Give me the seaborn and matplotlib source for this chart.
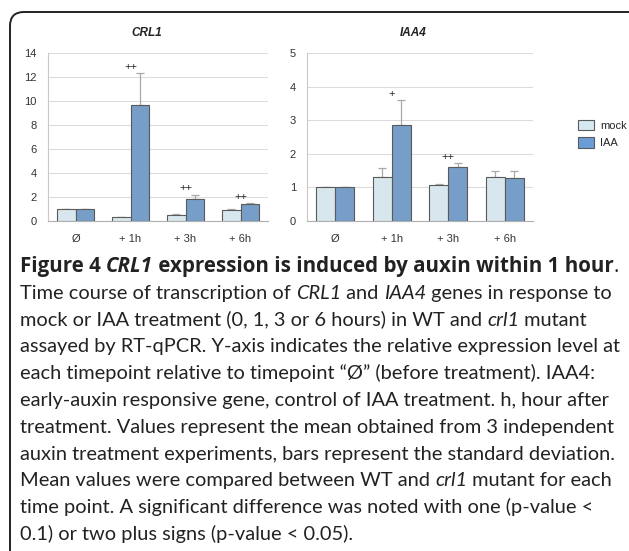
import matplotlib
matplotlib.use("Agg")
import matplotlib.pyplot as plt
import seaborn as sns
import pandas as pd
import numpy as np
from matplotlib.patches import FancyBboxPatch, Patch
from matplotlib.transforms import IdentityTransform

# données
timepoints = ["Ø", "+ 1h", "+ 3h", "+ 6h"]
treatments = ["mock", "IAA"]

crl1_mock = [1.0, 0.3, 0.5, 0.92]
crl1_iaa = [1.0, 9.7, 1.83, 1.4]
crl1_mock_sd = [0.02, 0.03, 0.05, 0.04]
crl1_iaa_sd = [0.02, 2.6, 0.35, 0.1]
crl1_signif = ["", "++", "++", "++"]

iaa4_mock = [1.0, 1.32, 1.08, 1.3]
iaa4_iaa = [1.0, 2.85, 1.6, 1.27]
iaa4_mock_sd = [0.01, 0.26, 0.03, 0.19]
iaa4_iaa_sd = [0.01, 0.75, 0.12, 0.23]
iaa4_signif = ["", "+", "++", ""]

colors = {"mock": "#d4e9f2", "IAA": "#6a9dd6"}
W, H = 629, 551

sns.set_style("white")
plt.rcParams["font.family"] = ["Liberation Sans", "DejaVu Sans"]

fig = plt.figure(figsize=(W / 100, H / 100), dpi=100)

# cadre arrondi du panneau (côtés droit et bas hors image)
frame = FancyBboxPatch((10, -30), 634, H - 12 + 30,
                       boxstyle="round,pad=0,rounding_size=14",
                       transform=IdentityTransform(), fill=False,
                       edgecolor="#222222", linewidth=1.4)
fig.patches.append(frame)


def make_df(mock, iaa, mock_sd, iaa_sd):
    return pd.DataFrame({
        "time": timepoints * 2,
        "treatment": ["mock"] * 4 + ["IAA"] * 4,
        "value": mock + iaa,
        "sd": mock_sd + iaa_sd,
    })


def draw_panel(rect, df, signif, ymax, step, title, title_x):
    ax = fig.add_axes(rect)
    sns.barplot(data=df, x="time", y="value", hue="treatment",
                order=timepoints, hue_order=treatments, palette=colors,
                width=0.667, gap=0, errorbar=None, legend=False,
                edgecolor="#5a5a5a", linewidth=0.8, ax=ax, zorder=3)
    # barres d'erreur (écart-type, vers le haut seulement)
    tops = np.zeros(len(timepoints))
    for cont, trt in zip(ax.containers, treatments):
        sub = df[df["treatment"] == trt].set_index("time").loc[timepoints]
        xs = [b.get_x() + b.get_width() / 2 for b in cont]
        ys = sub["value"].values
        sd = sub["sd"].values
        ax.errorbar(xs, ys, yerr=[np.zeros_like(sd), sd], fmt="none",
                    ecolor="#a8a8a8", elinewidth=0.9, capsize=3,
                    capthick=0.9, zorder=2)
        tops = np.maximum(tops, ys + sd)
    for i, s in enumerate(signif):
        if s:
            ax.annotate(s, xy=(i, tops[i]), xytext=(0, 1),
                        textcoords="offset points", ha="center",
                        va="bottom", fontsize=8, color="#222222")
    ax.set_xlim(-0.5, 3.5)
    ax.set_ylim(0, ymax)
    ax.set_yticks(np.arange(0, ymax + 0.01, step))
    ax.set_yticklabels([f"{v:g}" for v in np.arange(0, ymax + 0.01, step)])
    ax.set_xticks(np.arange(-0.5, 4, 1), minor=True)
    ax.set_xlabel("")
    ax.set_ylabel("")
    ax.yaxis.grid(True, color="#dcdcdc", linewidth=0.8, zorder=0)
    ax.set_axisbelow(True)
    for side in ["top", "right"]:
        ax.spines[side].set_visible(False)
    ax.spines["left"].set_color("#d0c4c8")
    ax.spines["bottom"].set_color("#b0b0b0")
    ax.spines["left"].set_linewidth(0.8)
    ax.spines["bottom"].set_linewidth(0.8)
    ax.tick_params(axis="y", length=3, width=0.6, color="#c8c8c8",
                   labelsize=8, labelcolor="#333333", pad=5)
    ax.tick_params(axis="x", which="major", length=0, labelsize=8,
                   labelcolor="#333333", pad=9)
    ax.tick_params(axis="x", which="minor", length=3, width=0.6,
                   color="#b0b0b0")
    ax.text(title_x, 1.12, title, transform=ax.transAxes, ha="center",
            va="center", fontsize=8.5, fontweight="bold", fontstyle="italic",
            color="#222222")
    return ax


crl1 = make_df(crl1_mock, crl1_iaa, crl1_mock_sd, crl1_iaa_sd)
iaa4 = make_df(iaa4_mock, iaa4_iaa, iaa4_mock_sd, iaa4_iaa_sd)

draw_panel([48 / W, 1 - 221 / H, 220 / W, 168 / H], crl1, crl1_signif,
           14, 2, "CRL1", 0.45)
draw_panel([307 / W, 1 - 221 / H, 226 / W, 168 / H], iaa4, iaa4_signif,
           5, 1, "IAA4", 0.47)

handles = [Patch(facecolor=colors[t], edgecolor="#5a5a5a", linewidth=0.8,
                 label=t) for t in treatments]
fig.legend(handles=handles, loc="center left",
           bbox_to_anchor=(568 / W, 1 - 134 / H), frameon=False,
           fontsize=8, handlelength=1.4, handleheight=1.1,
           handletextpad=0.6, labelspacing=0.6)

# légende de la figure (texte)
B, N, I, BI = ("bold", "normal"), ("normal", "normal"), ("normal", "italic"), ("bold", "italic")
title_line = [("Figure 4 ", B), ("CRL1", BI),
              (" expression is induced by auxin within 1 hour", B), (".", N)]
caption = [
    [("Time course of transcription of ", N), ("CRL1", I), (" and ", N), ("IAA4", I), (" genes in response to", N)],
    [("mock or IAA treatment (0, 1, 3 or 6 hours) in WT and ", N), ("crl1", I), (" mutant", N)],
    [("assayed by RT-qPCR. Y-axis indicates the relative expression level at", N)],
    [("each timepoint relative to timepoint \u201c\u00d8\u201d (before treatment). IAA4:", N)],
    [("early-auxin responsive gene, control of IAA treatment. h, hour after", N)],
    [("treatment. Values represent the mean obtained from 3 independent", N)],
    [("auxin treatment experiments, bars represent the standard deviation.", N)],
    [("Mean values were compared between WT and ", N), ("crl1", I), (" mutant for each", N)],
    [("time point. A significant difference was noted with one (p-value <", N)],
    [("0.1) or two plus signs (p-value < 0.05).", N)],
]

renderer = fig.canvas.get_renderer()
body_font = ["Lato", "DejaVu Sans"]
head_font = ["Open Sans", "DejaVu Sans"]


def run_width(txt, style, size, family):
    a = fig.text(0, 0, txt + "l", fontsize=size, fontweight=style[0],
                 fontstyle=style[1], family=family)
    b = fig.text(0, 0, "l", fontsize=size, fontweight=style[0],
                 fontstyle=style[1], family=family)
    w = a.get_window_extent(renderer).width - b.get_window_extent(renderer).width
    a.remove()
    b.remove()
    return w


def line_width(line, size, family):
    return sum(run_width(t, s, size, family) for t, s in line)


def draw_line(line, y, size, family):
    x = 20
    for txt, style in line:
        fig.text(x / W, 1 - y / H, txt, fontsize=size,
                 fontweight=style[0], fontstyle=style[1], family=family,
                 va="baseline", ha="left", color="#222222")
        x += run_width(txt, style, size, family)


# tailles ajustées pour que les lignes tiennent dans le cadre
head_size = 10 * 600 / line_width(title_line, 10, head_font)
body_size = 10 * 600 / max(line_width(l, 10, body_font) for l in caption)

base0, pitch = 272, 26.8
draw_line(title_line, base0, head_size, head_font)
for k, line in enumerate(caption):
    draw_line(line, base0 + (k + 1) * pitch, body_size, body_font)

fig.savefig("out.png", dpi=100)
